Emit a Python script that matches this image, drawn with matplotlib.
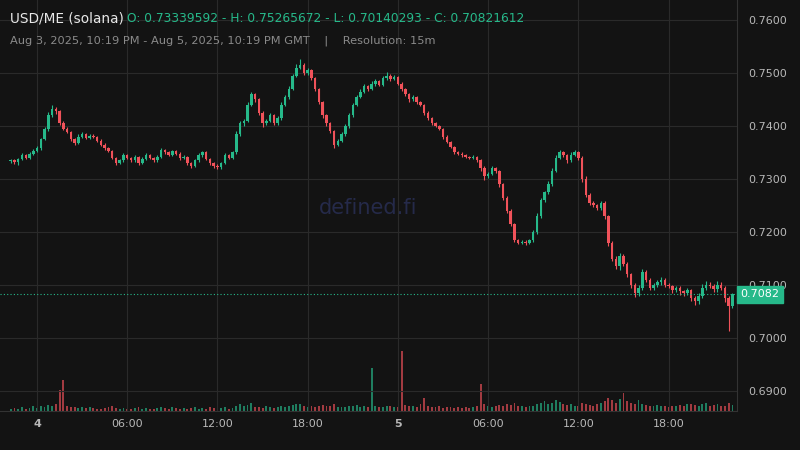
import matplotlib
matplotlib.use("Agg")
import matplotlib.pyplot as plt
from matplotlib.patches import Rectangle

first_open = 0.73339592
closes = [
0.7335,0.7332,0.7338,0.7345,0.7340,0.7348,0.7352,0.7358,
0.7375,0.7395,0.7420,0.7432,0.7428,0.7405,0.7395,0.7388,
0.7375,0.7368,0.7380,0.7385,0.7378,0.7382,0.7380,0.7372,
0.7365,0.7358,0.7352,0.7340,0.7330,0.7335,0.7345,0.7340,
0.7335,0.7342,0.7330,0.7338,0.7345,0.7340,0.7335,0.7342,
0.7355,0.7350,0.7345,0.7352,0.7348,0.7340,0.7342,0.7330,
0.7325,0.7335,0.7345,0.7350,0.7338,0.7330,0.7325,0.7322,
0.7330,0.7345,0.7340,0.7350,0.7385,0.7405,0.7410,0.7440,
0.7460,0.7450,0.7425,0.7405,0.7410,0.7420,0.7405,0.7415,
0.7440,0.7455,0.7470,0.7495,0.7510,0.7515,0.7500,0.7505,
0.7490,0.7470,0.7445,0.7420,0.7405,0.7390,0.7365,0.7372,
0.7385,0.7400,0.7420,0.7440,0.7455,0.7465,0.7475,0.7470,
0.7480,0.7485,0.7478,0.7490,0.7495,0.7488,0.7492,0.7480,
0.7470,0.7460,0.7450,0.7455,0.7445,0.7440,0.7425,0.7415,
0.7405,0.7400,0.7395,0.7380,0.7370,0.7360,0.7350,0.7348,
0.7345,0.7342,0.7340,0.7342,0.7335,0.7320,0.7305,0.7310,
0.7320,0.7315,0.7290,0.7265,0.7240,0.7215,0.7185,0.7180,
0.7182,0.7180,0.7185,0.7200,0.7230,0.7260,0.7275,0.7290,
0.7315,0.7340,0.7350,0.7345,0.7335,0.7345,0.7350,0.7340,
0.7300,0.7270,0.7255,0.7250,0.7245,0.7255,0.7230,0.7180,
0.7150,0.7135,0.7155,0.7140,0.7120,0.7100,0.7085,0.7095,
0.7125,0.7110,0.7095,0.7100,0.7105,0.7110,0.7100,0.7098,
0.7090,0.7095,0.7088,0.7085,0.7090,0.7075,0.7070,0.7080,
0.7095,0.7100,0.7098,0.7092,0.7100,0.7095,0.7075,0.7060,0.70821612]

# wick lengths in 0.0001 units
upper_wick = [
2,3,2,4,2,3,5,4, 3,4,6,7,3,2,4,3, 2,3,4,3,2,3,2,2,
3,2,2,3,2,3,4,2, 2,3,2,3,4,2,2,3, 4,2,3,3,2,2,3,2,
2,3,4,3,2,2,2,3, 3,4,2,3,5,4,3,6, 5,3,2,3,4,5,3,4,
5,4,6,4,7,12,3,4, 2,3,2,3,2,3,2,4, 3,4,5,4,3,4,5,3,
4,3,2,5,6,3,4,2, 3,2,3,4,2,3,2,3, 2,3,2,2,3,2,2,3,
2,3,2,3,2,3,4,3, 4,3,2,3,2,3,2,2, 2,3,2,4,5,4,3,6,
5,6,4,3,3,5,4,2, 4,5,3,3,2,4,3,2, 3,4,6,4,3,3,4,5,
6,4,3,4,5,6,3,3, 2,4,3,2,5,3,4,5, 6,8,5,4,7,5,3,4,3]
lower_wick = [
4,3,6,2,3,2,3,2, 3,2,4,3,5,4,3,2, 3,4,2,3,2,2,3,2,
2,3,2,3,4,2,3,2, 3,2,4,2,3,2,3,2, 2,3,2,2,3,4,2,3,
4,2,2,3,2,3,4,3, 3,2,3,2,3,4,5,3, 3,5,4,6,3,3,4,3,
3,2,4,3,3,3,4,3, 3,4,3,4,5,4,6,3, 2,3,4,3,3,2,3,4,
3,4,3,2,3,4,2,3, 4,3,5,3,4,3,4,3, 3,2,3,4,3,2,3,2,
3,2,2,3,3,4,6,3, 3,4,5,4,5,4,4,3, 3,4,2,3,4,3,4,3,
3,2,3,3,4,3,2,4, 5,4,4,3,3,4,5,6, 5,4,6,4,5,6,8,5,
4,5,5,4,3,5,4,4, 5,4,6,5,4,6,7,5, 4,5,4,6,5,4,7,46,4]

volumes = [
4,5,3,6,4,5,8,5, 9,7,10,9,12,35,52,8, 6,7,5,6,5,6,5,4,
4,5,6,8,5,4,5,4, 4,5,6,4,5,4,3,5, 6,5,4,7,5,4,5,4,
5,6,4,5,4,6,5,4, 5,7,4,5,9,12,8,10, 14,7,6,5,8,6,5,7,
8,6,9,10,12,11,8,7, 8,7,9,10,8,9,11,7, 6,7,8,9,10,6,8,7,
72,8,7,6,9,8,7,6, 100,10,8,9,7,12,22,8, 7,6,8,5,6,7,5,6,
5,6,5,7,9,45,12,8, 7,9,10,8,12,10,13,9, 8,7,8,9,12,14,16,12,
14,18,15,12,10,12,9,8, 14,12,10,9,11,13,16,22, 18,14,20,30,16,14,12,18,
12,10,9,8,10,9,8,7, 8,9,10,9,12,11,10,8, 11,14,9,10,12,9,8,13,10]

xtick_pos = [7, 31, 55, 79, 103, 127, 151, 175]
xtick_labels = ["4", "06:00", "12:00", "18:00", "5", "06:00", "12:00", "18:00"]
yticks = [0.69, 0.70, 0.71, 0.72, 0.73, 0.74, 0.75, 0.76]

BG = "#131313"
GREEN = "#26b98a"
RED = "#f0525a"
GRID = "#2a2a2a"
TXT = "#b8b8b8"

fig = plt.figure(figsize=(8, 4.5), dpi=100, facecolor=BG)
ax = fig.add_axes([0, 39/450, 737/800, 411/450])
ax.set_facecolor(BG)
axv = ax.twinx()
axv.set_ylim(0, 685)
axv.axis("off")
ax.set_zorder(axv.get_zorder() + 1)
ax.patch.set_visible(False)
axv.patch.set_visible(True)
axv.patch.set_facecolor(BG)

opens = [first_open] + closes[:-1]
for i, (o, c) in enumerate(zip(opens, closes)):
    col = GREEN if c >= o else RED
    hi = max(o, c) + upper_wick[i] * 1e-4
    lo = min(o, c) - lower_wick[i] * 1e-4
    ax.vlines(i, lo, hi, color=col, lw=0.8, zorder=3)
    h = max(abs(c - o), 0.00004)
    ax.add_patch(Rectangle((i - 0.33, min(o, c)), 0.66, h, color=col, lw=0, zorder=4))
    axv.bar(i, volumes[i], width=0.5, color=col, alpha=0.65, lw=0)

ax.set_xlim(-2.85, 193.2)
ax.set_ylim(0.68623, 0.76377)
ax.set_yticks(yticks)
ax.set_yticklabels([f"{v:.4f}" for v in yticks])
ax.yaxis.tick_right()
ax.set_xticks(xtick_pos)
ax.set_xticklabels(xtick_labels)
for lab, t in zip(ax.get_xticklabels(), xtick_labels):
    if t in ("4", "5"):
        lab.set_fontweight("bold")
        lab.set_color("#dddddd")
ax.tick_params(colors=TXT, labelsize=8, length=0, pad=6)
ax.tick_params(axis="y", pad=8)
ax.grid(True, color=GRID, lw=0.8)
ax.set_axisbelow(True)
for s in ax.spines.values():
    s.set_visible(False)
ax.spines["right"].set_visible(True)
ax.spines["right"].set_color("#333333")
ax.spines["bottom"].set_visible(True)
ax.spines["bottom"].set_color("#333333")

last = closes[-1]
ax.axhline(last, color=GREEN, lw=0.8, ls=(0, (1, 2)), zorder=5)
ax.text(1.005, last, f"{last:.4f}", transform=ax.get_yaxis_transform(), va="center", ha="left",
        fontsize=8, color="white", bbox=dict(boxstyle="square,pad=0.3", fc=GREEN, ec=GREEN), clip_on=False)

ax.text(0.5, 0.495, "defined.fi", transform=ax.transAxes, ha="center", va="center",
        fontsize=15, color="#252a4a", zorder=1)

fig.text(10/800, 1-19/450, "USD/ME (solana)", color="#e8e8e8", fontsize=9.8, va="center")
fig.text(127/800, 1-19/450, "O: 0.73339592 - H: 0.75265672 - L: 0.70140293 - C: 0.70821612",
         color=GREEN, fontsize=8.8, va="center")
fig.text(10/800, 1-41/450, "Aug 3, 2025, 10:19 PM - Aug 5, 2025, 10:19 PM GMT    |    Resolution: 15m",
         color="#8a8a8a", fontsize=8.2, va="center")

fig.savefig("out.png", dpi=100, facecolor=BG)
